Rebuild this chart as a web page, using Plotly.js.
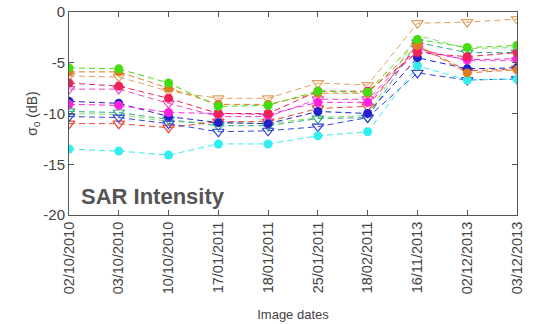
<!DOCTYPE html>
<html><head><meta charset="utf-8">
<script src="https://cdn.plot.ly/plotly-3.0.1.min.js"></script>
<style>html,body{margin:0;padding:0;background:#fff}#c{width:535px;height:324px}</style>
</head><body><div id="c"></div>
<script>
const dates = ["02/10/2010","03/10/2010","10/10/2010","17/01/2011","18/01/2011","25/01/2011","18/02/2011","16/11/2013","02/12/2013","03/12/2013"];
const yTickVals = [0,-5,-10,-15,-20];
const yTickText = ["0","-5","-10","-15","-20"];
const sGreenCircle   = [-5.5,-5.6,-7.0,-9.3,-9.2,-7.8,-7.9,-2.7,-3.5,-3.3];
const sOrangeCircle  = [-5.9,-5.9,-7.5,-9.1,-9.1,-8.0,-8.0,-3.3,-6.0,-5.7];
const sTanTriangle   = [-6.3,-6.4,-7.8,-8.5,-8.5,-7.0,-7.2,-1.1,-1.0,-0.7];
const sRedCircle     = [-7.0,-7.3,-8.5,-10.0,-10.0,-7.8,-7.8,-4.0,-4.4,-4.0];
const sPinkTriangle  = [-7.6,-7.6,-9.0,-10.3,-10.3,-8.6,-8.6,-3.6,-4.8,-4.8];
const sBlueCircle    = [-8.8,-9.0,-10.3,-10.9,-11.0,-9.8,-10.0,-4.5,-5.6,-5.5];
const sMagentaCircle = [-9.1,-9.2,-9.9,-10.0,-10.1,-8.9,-8.9,-3.8,-4.7,-4.6];
const sTealTriangle  = [-9.8,-9.9,-10.6,-11.2,-11.2,-10.5,-10.4,-3.0,-4.0,-4.0];
const sLightGreen    = [-10.0,-10.1,-10.8,-10.9,-11.0,-10.4,-10.2,-2.3,-3.6,-3.5];
const sBlueTriangle  = [-10.3,-10.4,-11.0,-11.8,-11.7,-11.3,-10.4,-6.0,-6.7,-6.6];
const sRedTriangle   = [-11.0,-11.0,-11.4,-10.8,-10.8,-9.5,-9.3,-3.3,-5.8,-5.6];
const sCyanCircle    = [-13.5,-13.7,-14.1,-13.0,-13.0,-12.2,-11.8,-5.3,-6.7,-6.6];

function tr(y, color, symbol, msize){
  const open = symbol.indexOf('open') >= 0;
  return {x: dates, y: y, type:'scatter', mode: msize===0 ? 'lines' : 'lines+markers',
    line:{color:color, width:1, dash:'6px,4px'},
    marker:{symbol:symbol, size: msize || (open?10:9), color: color,
            line:{color:color, width: open?1.2:0}},
    showlegend:false, hoverinfo:'skip'};
}
const data = [
  tr(sLightGreen,'#88dd66','circle',0),
  tr(sTealTriangle,'#33aa88','triangle-down-open'),
  tr(sRedTriangle,'#ee4433','triangle-down-open'),
  tr(sBlueTriangle,'#3344dd','triangle-down-open'),
  tr(sCyanCircle,'#33eeee','circle'),
  tr(sPinkTriangle,'#ee44cc','triangle-down-open'),
  tr(sTanTriangle,'#e0a060','triangle-down-open'),
  tr(sBlueCircle,'#2222cc','circle'),
  tr(sMagentaCircle,'#ff22dd','circle'),
  tr(sRedCircle,'#ee2255','circle'),
  tr(sOrangeCircle,'#dd7d22','circle'),
  tr(sGreenCircle,'#44dd11','circle')
];
const layout = {
  width:535, height:324,
  margin:{l:69, r:18, t:12, b:109},
  paper_bgcolor:'#fff', plot_bgcolor:'#fff',
  font:{family:'Arial, Liberation Sans, sans-serif', color:'#444'},
  xaxis:{type:'category', range:[0,9], showgrid:false, zeroline:false,
    showline:true, linecolor:'#555', linewidth:1, mirror:'ticks',
    ticks:'inside', ticklen:5, tickcolor:'#555', tickangle:-90,
    tickfont:{size:14.5, color:'#444'},
    title:{text:'Image dates', font:{size:13, color:'#444'}, standoff:16}},
  yaxis:{range:[-20,0], tickvals:yTickVals, ticktext:yTickText, showgrid:false, zeroline:false,
    showline:true, linecolor:'#555', linewidth:1, mirror:'ticks',
    ticks:'inside', ticklen:5, tickcolor:'#555',
    tickfont:{size:15, color:'#444'},
    title:{text:'σ<sub>0</sub> (dB)', font:{size:14, color:'#444'}, standoff:2}},
  annotations:[{text:'<b>SAR Intensity</b>', xref:'paper', yref:'y', x:0.022, y:-18.2,
    xanchor:'left', yanchor:'middle', showarrow:false, font:{size:22, color:'#555'}}]
};
Plotly.newPlot('c', data, layout, {displayModeBar:false, staticPlot:true});
</script></body></html>
